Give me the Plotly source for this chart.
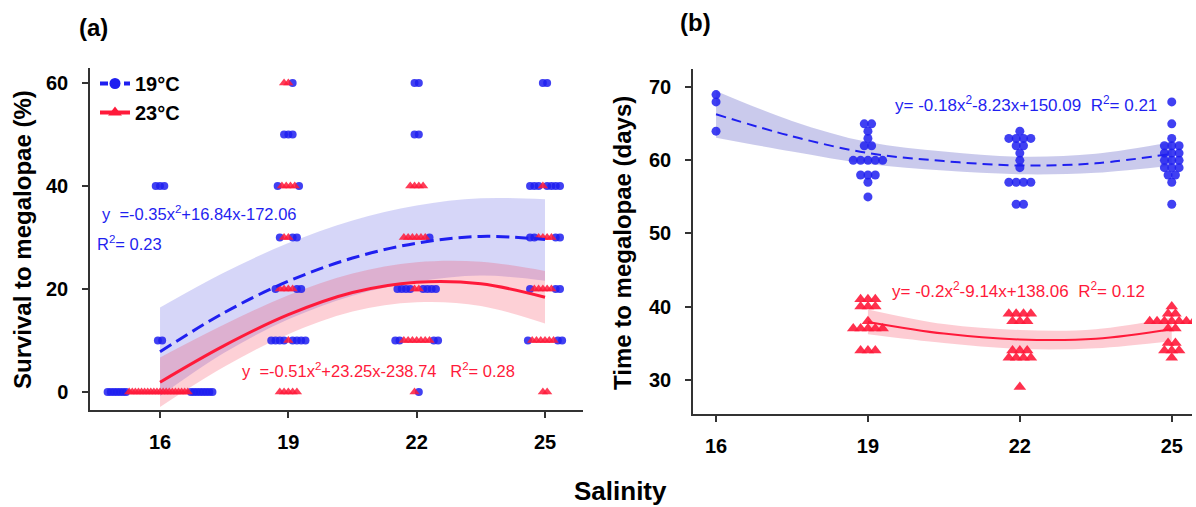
import plotly.graph_objects as go

# ---------------- data ----------------
SAL = [16, 19, 22, 25]

# Panel (a): survival to megalopae (%) per replicate
surv_19C = {
    16: [40, 40, 40, 10, 10, 0, 0, 0, 0, 0, 0, 0, 0, 0, 0, 0, 0, 0, 0, 0],
    19: [60, 50, 50, 50, 40, 40, 30, 30, 30, 20, 20, 20, 10, 10, 10, 10, 10, 10, 10, 10],
    22: [60, 60, 50, 50, 30, 20, 20, 20, 20, 20, 20, 20, 20, 10, 10, 10, 10, 0],
    25: [60, 60, 40, 40, 40, 40, 40, 40, 40, 30, 30, 30, 30, 20, 20, 20, 10, 10, 10],
}
surv_23C = {
    16: [0, 0, 0, 0, 0, 0, 0, 0, 0, 0, 0, 0, 0, 0, 0, 0, 0, 0, 0, 0],
    19: [60, 60, 40, 40, 40, 40, 30, 30, 20, 20, 20, 20, 10, 0, 0, 0, 0, 0],
    22: [40, 40, 40, 40, 30, 30, 30, 30, 30, 30, 20, 20, 10, 10, 10, 10, 10, 10, 10, 0],
    25: [40, 30, 30, 30, 30, 20, 20, 20, 20, 20, 10, 10, 10, 10, 10, 10, 0, 0],
}

# Panel (b): time to megalopae (days) per replicate
days_19C = {
    16: [69, 68, 64],
    19: [65, 65, 64, 63, 62, 62, 60, 60, 60, 60, 60, 58, 58, 58, 57, 55],
    22: [64, 63, 63, 63, 63, 62, 62, 61, 60, 59, 57, 57, 57, 57, 54, 54],
    25: [68, 65, 63, 62, 62, 62, 61, 61, 61, 60, 60, 60, 59, 59, 59, 58, 58, 57, 54],
}
days_23C = {
    19: [41, 41, 41, 40, 40, 40, 38, 37, 37, 37, 37, 37, 34, 34, 34],
    22: [39, 39, 39, 39, 38, 38, 38, 34, 34, 34, 33, 33, 33, 33, 29],
    25: [40, 39, 39, 38, 38, 38, 38, 38, 38, 38, 37, 37, 35, 35, 34, 34, 34, 33],
}

# Fitted quadratic curves and 95% bands
curve_x = [16, 17.5, 19, 20.5, 22, 23.5, 25]
a_fit_19C = [7.8, 15.4, 21.5, 26.0, 28.9, 30.2, 29.6]
a_lo_19C = [-0.8, 7.6, 14.1, 18.7, 21.4, 22.6, 21.6]
a_hi_19C = [16.4, 23.2, 28.9, 33.3, 36.2, 37.6, 37.4]
a_fit_23C = [1.9, 9.0, 15.0, 19.3, 21.3, 21.0, 18.4]
a_lo_23C = [-2.9, 4.9, 11.2, 15.6, 17.4, 16.7, 13.3]
a_hi_23C = [6.7, 13.1, 18.8, 23.0, 25.2, 25.3, 23.5]

b_fit_19C = [66.3, 63.3, 61.0, 59.9, 59.3, 59.6, 60.9]
b_lo_19C = [63.1, 61.2, 59.5, 58.6, 58.1, 58.3, 59.3]
b_hi_19C = [69.5, 65.4, 62.5, 61.2, 60.5, 60.9, 62.5]
curve_x_23C = [19, 20.5, 22, 23.5, 25]
b_fit_23C = [37.9, 36.3, 35.5, 35.6, 36.9]
b_lo_23C = [36.2, 35.0, 34.2, 34.3, 35.3]
b_hi_23C = [39.6, 37.6, 36.8, 36.9, 38.5]

# ---------------- style ----------------
FONT = "Arial, Liberation Sans, sans-serif"
BLUE = "#1f1ff0"
RED = "#ff1a3a"
W, H = 1196, 507


def px_x(p):
    return p / W


def px_y(p):
    return 1 - p / H


def dodge(groups, step, maxw):
    """Spread tied values horizontally (beeswarm-like row), inner slots to later groups."""
    out = [([], []) for _ in groups]
    levels = sorted(set().union(*[set(g.keys()) for g in groups]))
    for s in levels:
        yvals = sorted(set().union(*[set(g.get(s, [])) for g in groups]))
        for yv in yvals:
            counts = [g.get(s, []).count(yv) for g in groups]
            n = sum(counts)
            sp = step if n <= 1 else min(step, maxw / (n - 1))
            offs = [(i - (n - 1) / 2) * sp for i in range(n)]
            offs.sort(key=lambda o: (abs(o), o))
            idx = 0
            for gi in reversed(range(len(groups))):
                for _ in range(counts[gi]):
                    out[gi][0].append(s + offs[idx])
                    out[gi][1].append(yv)
                    idx += 1
    return out


fig = go.Figure()


def band(xs, lo, hi, fill, xa, ya):
    fig.add_trace(go.Scatter(x=xs, y=lo, mode="lines", line=dict(width=0, shape="spline"),
                             xaxis=xa, yaxis=ya, showlegend=False, hoverinfo="skip"))
    fig.add_trace(go.Scatter(x=xs, y=hi, mode="lines", line=dict(width=0, shape="spline"),
                             fill="tonexty", fillcolor=fill, xaxis=xa, yaxis=ya,
                             showlegend=False, hoverinfo="skip"))


# ---- panel (a)
band(curve_x, a_lo_19C, a_hi_19C, "rgba(70,70,225,0.22)", "x", "y")
band(curve_x, a_lo_23C, a_hi_23C, "rgba(245,40,70,0.22)", "x", "y")

(ab_x, ab_y), (ar_x, ar_y) = dodge([surv_19C, surv_23C], 0.10, 2.45)
fig.add_trace(go.Scatter(x=ab_x, y=ab_y, mode="markers", xaxis="x", yaxis="y",
                         marker=dict(symbol="circle", size=8, color=BLUE, opacity=0.85,
                                     line=dict(width=0)), showlegend=False))
fig.add_trace(go.Scatter(x=ar_x, y=ar_y, mode="markers", xaxis="x", yaxis="y",
                         marker=dict(symbol="triangle-up", size=9, color=RED, opacity=0.85,
                                     line=dict(width=0)), showlegend=False))
fig.add_trace(go.Scatter(x=curve_x, y=a_fit_19C, mode="lines", xaxis="x", yaxis="y",
                         line=dict(color=BLUE, width=3, dash="13px,6px", shape="spline"),
                         showlegend=False))
fig.add_trace(go.Scatter(x=curve_x, y=a_fit_23C, mode="lines", xaxis="x", yaxis="y",
                         line=dict(color=RED, width=3, shape="spline"), showlegend=False))

# ---- panel (b)
band(curve_x, b_lo_19C, b_hi_19C, "rgba(50,50,180,0.26)", "x2", "y2")
band(curve_x_23C, b_lo_23C, b_hi_23C, "rgba(245,40,70,0.24)", "x2", "y2")

(bb_x, bb_y), (br_x, br_y) = dodge([days_19C, days_23C], 0.145, 2.0)
fig.add_trace(go.Scatter(x=bb_x, y=bb_y, mode="markers", xaxis="x2", yaxis="y2",
                         marker=dict(symbol="circle", size=9, color=BLUE, opacity=0.85,
                                     line=dict(width=0)), showlegend=False))
fig.add_trace(go.Scatter(x=br_x, y=br_y, mode="markers", xaxis="x2", yaxis="y2",
                         marker=dict(symbol="triangle-up", size=11, color=RED, opacity=0.9,
                                     line=dict(width=0)), showlegend=False))
fig.add_trace(go.Scatter(x=curve_x, y=b_fit_19C, mode="lines", xaxis="x2", yaxis="y2",
                         line=dict(color=BLUE, width=2, dash="10px,6px", shape="spline"),
                         showlegend=False))
fig.add_trace(go.Scatter(x=curve_x_23C, y=b_fit_23C, mode="lines", xaxis="x2", yaxis="y2",
                         line=dict(color=RED, width=2, shape="spline"), showlegend=False))

# ---- legend entries
fig.add_trace(go.Scatter(x=[None], y=[None], mode="lines+markers", name="19°C",
                         xaxis="x", yaxis="y",
                         line=dict(color=BLUE, width=4, dash="8px,4px"),
                         marker=dict(symbol="circle", size=11, color=BLUE)))
fig.add_trace(go.Scatter(x=[None], y=[None], mode="lines+markers", name="23°C",
                         xaxis="x", yaxis="y",
                         line=dict(color=RED, width=4),
                         marker=dict(symbol="triangle-up", size=12, color=RED)))

axis_common = dict(showline=True, linecolor="#333333", linewidth=1.5, ticks="outside",
                   ticklen=6, tickwidth=1.5, tickcolor="#333333", showgrid=False,
                   zeroline=False,
                   tickfont=dict(family=FONT, size=20, color="black", weight="bold"))

fig.update_layout(
    width=W, height=H,
    margin=dict(l=0, r=0, t=0, b=0),
    paper_bgcolor="white", plot_bgcolor="white",
    xaxis=dict(domain=[px_x(90), px_x(583)], range=[14.363, 25.888], tickvals=SAL,
               anchor="y", ticklabelstandoff=7, **axis_common),
    yaxis=dict(domain=[px_y(410), px_y(68)], range=[-3.5, 62.9], tickvals=[0, 20, 40, 60],
               anchor="x", ticklabelstandoff=10, **axis_common),
    xaxis2=dict(domain=[px_x(693), px_x(1192)], range=[15.545, 25.4], tickvals=SAL,
                anchor="y2", ticklabelstandoff=7, **axis_common),
    yaxis2=dict(domain=[px_y(414), px_y(69)], range=[25.3, 72.5],
                tickvals=[30, 40, 50, 60, 70], anchor="x2", ticklabelstandoff=10,
                **axis_common),
    legend=dict(x=px_x(95), y=px_y(64), xanchor="left", yanchor="top",
                bgcolor="rgba(0,0,0,0)", traceorder="normal",
                font=dict(family=FONT, size=20, color="black", weight="bold"),
                tracegroupgap=0),
    showlegend=True,
)

ann = []


def text(x, y, t, size, color="black", xanchor="center", angle=0, bold=False):
    ann.append(dict(x=px_x(x), y=px_y(y), xref="paper", yref="paper", text=t,
                    showarrow=False, xanchor=xanchor, yanchor="middle", textangle=angle,
                    font=dict(family=FONT, size=size, color=color,
                              weight="bold" if bold else "normal")))


text(93, 27, "(a)", 24, bold=True)
text(695, 22, "(b)", 24, bold=True)
text(22, 240, "Survival to megalopae (%)", 24, angle=-90, bold=True)
text(622, 243, "Time to megalopae (days)", 24, angle=-90, bold=True)
text(620, 491, "Salinity", 26, bold=True)
text(100, 213, "y  =-0.35x<sup>2</sup>+16.84x-172.06", 16.5, BLUE, "left")
text(95, 243, "R<sup>2</sup>= 0.23", 16.5, BLUE, "left")
text(240, 370, "y  =-0.51x<sup>2</sup>+23.25x-238.74   R<sup>2</sup>= 0.28", 16.5, RED, "left")
text(893, 104, "y= -0.18x<sup>2</sup>-8.23x+150.09  R<sup>2</sup>= 0.21", 17, BLUE, "left")
text(890, 290, "y= -0.2x<sup>2</sup>-9.14x+138.06  R<sup>2</sup>= 0.12", 17, RED, "left")
fig.update_layout(annotations=ann)

fig.write_html(
    "out.html",
    config={"displayModeBar": False},
    post_script="document.body.style.margin='0';document.body.style.overflow='hidden';",
)
